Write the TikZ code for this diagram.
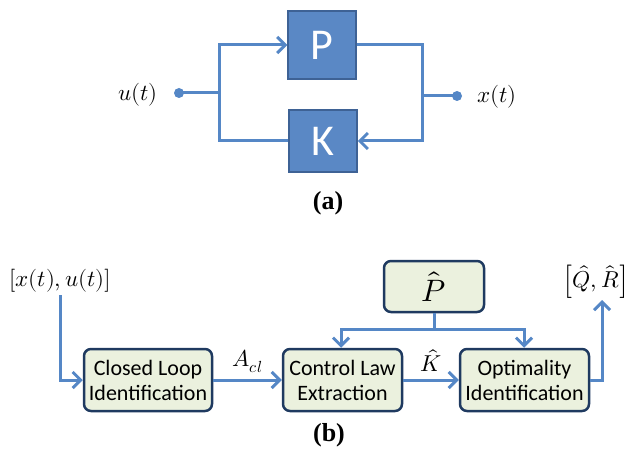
\documentclass[tikz,border=0pt]{standalone}
\usepackage{fontspec}
\setmainfont{Liberation Serif}
\newfontfamily\calib{Carlito}
\newfontfamily\timesfont{Liberation Serif}
\usepackage{unicode-math}
\setmathfont{Latin Modern Math}
\usetikzlibrary{arrows.meta,positioning}
\definecolor{lineblue}{HTML}{5587C6}
\definecolor{boxblue}{HTML}{5A88C5}
\definecolor{boxblueedge}{HTML}{3E6295}
\definecolor{greenfill}{HTML}{EBF1DE}
\definecolor{navy}{HTML}{1F3A60}
\tikzset{
  conn/.style={draw=lineblue, line width=3pt},
  arr/.style={conn, -{Straight Barb[length=8pt,width=16pt,line width=3pt]}},
  pkbox/.style={draw=boxblueedge, fill=boxblue, line width=1.5pt, text=white,
    font=\calib\fontsize{44}{46}\selectfont, inner sep=0pt},
  gbox/.style={draw=navy, fill=greenfill, line width=2.5pt, rounded corners=7pt,
    font=\calib\fontsize{22}{25}\selectfont, align=center, inner sep=0pt},
  mlabel/.style={font=\fontsize{23}{26}\selectfont, inner sep=0pt},
  dot/.style={circle, fill=lineblue, inner sep=0pt, minimum size=10pt},
  captext/.style={font=\timesfont\bfseries\fontsize{26}{28}\selectfont, inner sep=0pt}
}
\begin{document}
\begin{tikzpicture}[x=1pt,y=-1pt]
\useasboundingbox (0,0) rectangle (629,449);
% ---------- (a) ----------
\node[pkbox, minimum width=68pt, minimum height=68pt] (P) at (322,45) {P};
\node[pkbox, minimum width=68pt, minimum height=62pt] (K) at (323,141) {K};
\node[dot] (u) at (179,93) {};
\node[dot] (x) at (457,96) {};
\node[mlabel] (ul) at (138,95) {$u(t)$};
\node[mlabel] (xl) at (497,97) {$x(t)$};
\coordinate (lj) at (219,93);
\coordinate (rj) at (422,96);
\draw[conn] (u.center) -- (lj);
\draw[conn] (rj) -- (x.center);
\draw[arr] (lj) |- (P.west);
\draw[conn] (K.west) -| (lj);
\draw[conn] (P.east) -| (rj);
\draw[arr] (rj) |- (K.east);
\node[captext] (capa) at (328,203) {(a)};
% ---------- (b) ----------
\node[gbox, minimum width=128pt, minimum height=62pt] (cli) at (148,380) {Closed Loop\\Identification};
\node[gbox, minimum width=119pt, minimum height=62pt] (cle) at (342.5,380) {Control Law\\Extraction};
\node[gbox, minimum width=129pt, minimum height=62pt] (oi) at (524.5,380) {Optimality\\Identification};
\node[gbox, minimum width=100pt, minimum height=51pt, font=\fontsize{31}{32}\selectfont] (ph) at (434,286.5) {$\hat{P}$};
\node[mlabel] (xu) at (60,281) {$[x(t),u(t)]$};
\node[mlabel] (qr) at (596,282) {$\left[\hat{Q},\hat{R}\right]$};
\coordinate (xuc) at (60,295);
\draw[arr] (xuc) |- (cli.west);
\draw[arr] (cli.east) -- node[mlabel, above=6pt] (acl) {$A_{cl}$} (cle.west);
\draw[arr] (cle.east) -- node[mlabel, above=7pt] (kh) {$\hat{K}$} (oi.west);
\coordinate (pj) at (434,329);
\coordinate (pl) at (341,329);
\coordinate (pr) at (524,329);
\draw[conn] (ph.south) -- (pj);
\draw[arr] (pj) -- (pl) -- (pl |- cle.north);
\draw[arr] (pj) -- (pr) -- (pr |- oi.north);
\coordinate (qrc) at (602,300);
\draw[arr] (oi.east) -| (qrc);
\node[captext] (capb) at (329,435) {(b)};
\end{tikzpicture}
\end{document}
